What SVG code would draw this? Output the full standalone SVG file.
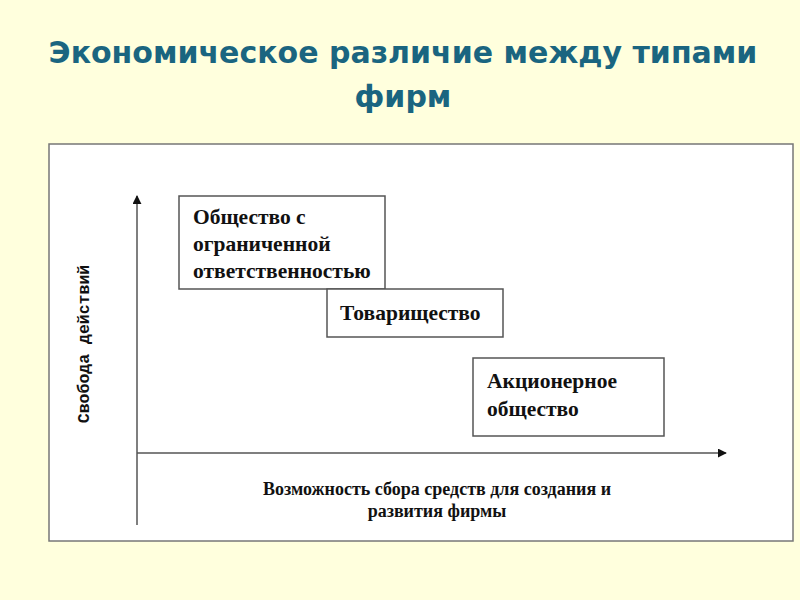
<svg xmlns="http://www.w3.org/2000/svg" width="800" height="600" viewBox="0 0 800 600">
<defs>
<style>
.title{font-family:"DejaVu Sans",sans-serif;font-weight:bold;font-size:30px;fill:#1a6580;text-anchor:middle}
.box{fill:#ffffff;stroke:#555555;stroke-width:1.5}
.lbl{font-family:"Liberation Serif",serif;font-weight:bold;font-size:21.5px;fill:#111111}
.axl{font-family:"Liberation Serif",serif;font-weight:bold;font-size:18px;fill:#111111;text-anchor:middle}
.ayl{font-family:"Liberation Mono",monospace;font-weight:bold;font-size:16.5px;fill:#111111;text-anchor:middle}
.axis{stroke:#555555;stroke-width:1.5;fill:none}
</style>
<marker id="arr" viewBox="0 0 10 10" refX="9" refY="5" markerWidth="9" markerHeight="9" markerUnits="userSpaceOnUse" orient="auto">
<path d="M0,0 L10,5 L0,10 Z" fill="#111111"/>
</marker>
</defs>
<rect x="0" y="0" width="800" height="600" fill="#ffffdd"/>
<g id="title">
<text class="title" x="403" y="63">Экономическое различие между типами</text>
<text class="title" x="403" y="107">фирм</text>
</g>
<rect x="49" y="144" width="744" height="397" fill="#ffffff" stroke="#777777" stroke-width="1.5"/>
<g id="connectors">
<line class="axis" x1="137" y1="525" x2="137" y2="196" marker-end="url(#arr)"/>
<line class="axis" x1="137" y1="453" x2="726" y2="453" marker-end="url(#arr)"/>
</g>
<g id="ylabel">
<text class="ayl" transform="translate(89,344) rotate(-90)">Свобода действий</text>
</g>
<g id="xlabel">
<text class="axl" x="437" y="495">Возможность сбора средств для создания и</text>
<text class="axl" x="437" y="517">развития фирмы</text>
</g>
<g id="node-ooo">
<rect class="box" x="179" y="196" width="206" height="93"/>
<text class="lbl" x="193" y="224">Общество с</text>
<text class="lbl" x="193" y="251">ограниченной</text>
<text class="lbl" x="193" y="278">ответственностью</text>
</g>
<g id="node-tov">
<rect class="box" x="327" y="289" width="176" height="48"/>
<text class="lbl" x="340" y="320">Товарищество</text>
</g>
<g id="node-ao">
<rect class="box" x="473" y="358" width="191" height="78"/>
<text class="lbl" x="487" y="388">Акционерное</text>
<text class="lbl" x="487" y="416">общество</text>
</g>
</svg>
